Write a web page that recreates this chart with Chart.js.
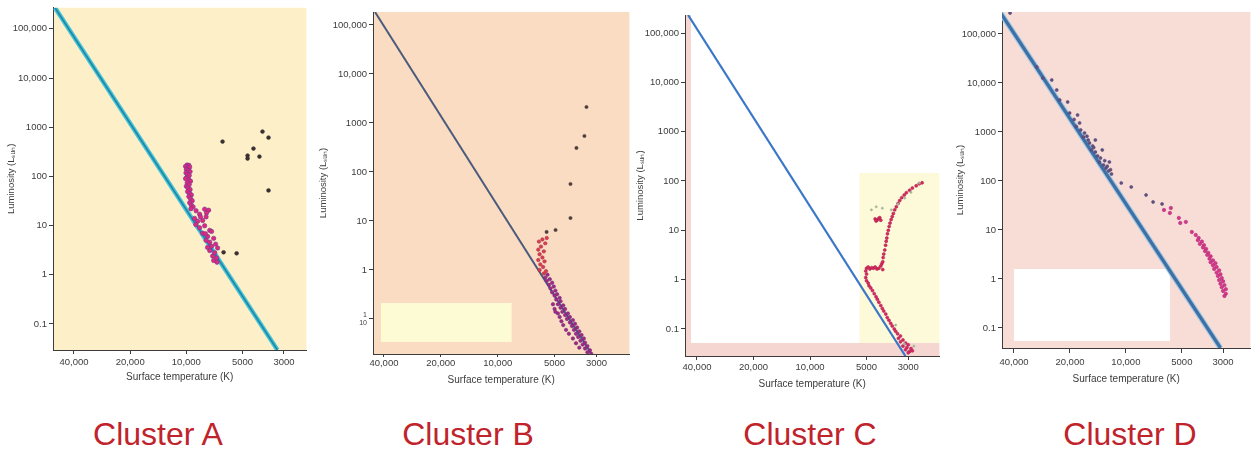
<!DOCTYPE html>
<html>
<head>
<meta charset="utf-8">
<script src="https://cdn.jsdelivr.net/npm/chart.js@4.4.1/dist/chart.umd.min.js"></script>
<style>
body { margin: 0; background: #fff; width: 1255px; height: 450px; position: relative; overflow: hidden; font-family: "Liberation Sans", Arial, sans-serif; }
canvas { position: absolute; top: 0; }
.name { position: absolute; top: 418px; width: 240px; text-align: center; font-size: 32px; line-height: 32px; color: #c0232b; }
</style>
</head>
<body>
<canvas id="chartA" width="305" height="392" style="left:6px"></canvas>
<canvas id="chartB" width="316" height="392" style="left:318px"></canvas>
<canvas id="chartC" width="309" height="392" style="left:635px"></canvas>
<canvas id="chartD" width="300" height="392" style="left:955px"></canvas>
<script>
let yTicks = [0.1, 1, 10, 100, 1000, 10000, 100000]
let yTickLabels = ['0.1', '1', '10', '100', '1000', '10,000', '100,000']
let yTickLabelsB = [['1', '10'], '1', '10', '100', '1000', '10,000', '100,000']
let xTicks = [40000, 20000, 10000, 5000, 3000]
let xTickLabels = ['40,000', '20,000', '10,000', '5000', '3000']
let clusterNames = ['Cluster A', 'Cluster B', 'Cluster C', 'Cluster D']

// all points are [surface temperature K, luminosity Lsun]
// main sequence reference line of each panel
let zamsA = [[50530, 269000], [3251, 0.0295]]
let zamsB = [[44600, 184000], [3190, 0.0193]]
let zamsC = [[44600, 232000], [3104, 0.0283]]
let zamsD = [[47550, 281000], [3098, 0.039]]

// Cluster A
let aMain = [[9900,170],[9700,168],[10100,160],[9800,150],[9600,155],[10000,140],[9750,132],[9550,125],[10050,118],[9850,110],
  [9650,104],[9950,96],[10100,90],[9700,86],[9500,80],[9900,74],[9650,68],[10000,63],[9800,58],[9550,54],
  [9850,49],[9600,45],[9400,42],[9700,39],[9500,35],[9300,32],[9600,29],[9400,26],[9200,24],[9450,22],
  [8870,20],[8490,17],[7980,21.5],[7600,20.5],[7800,18],[9030,14],[8700,12.2],[8180,12.7],[7840,15],[8400,15],
  [8490,9],[7980,9.9],[7500,8],[8900,10.5],[8180,7],[7690,6],[7330,7.6],[7840,5],[7500,4.6],[7140,5.5],
  [7330,3.8],[6970,4.2],[7500,3.1],[7050,2.8],[6800,3.5],[7230,2.4],[6890,2.2],[7140,1.95],[7700,3.6],[7900,6.8],[6850,1.8]]
let aGiants = [[6400,510],[4700,265],[4700,231],[4370,368],[4060,253],[3910,815],[3630,615],[3630,51.8],[6320,2.86],[5380,2.73]]

// Cluster B
let bUpper = [[5500,4.5],[5800,4.2],[6050,3.8],[5600,3.5],[5900,3.0],[6100,2.6],[5700,2.4],[6000,2.1],[5800,1.8],[6100,1.6],
  [5650,1.5],[5950,1.3],[5750,1.15],[6000,1.0],[5550,0.95],[5700,0.85]]
let bLower = [[5450,0.8],[5600,0.7],[5300,0.65],[5500,0.6],[5150,0.55],[5350,0.5],[5050,0.46],[5250,0.42],[4950,0.38],[5150,0.35],
  [4850,0.32],[5000,0.3],[4700,0.27],[4900,0.25],[4650,0.23],[4800,0.2],[4500,0.19],[4650,0.17],[4400,0.16],[4550,0.14],
  [4250,0.13],[4400,0.12],[4150,0.11],[4300,0.1],[4000,0.095],[4150,0.085],[3900,0.08],[4050,0.072],[3800,0.067],[3950,0.06],
  [3700,0.056],[3850,0.05],[3600,0.047],[3750,0.043],[3500,0.04],[3650,0.036],[3450,0.033],[3550,0.03],[3350,0.028],[3450,0.025],
  [3250,0.023],[3350,0.021],[3200,0.0195],[4700,0.11],[4600,0.09],[4800,0.13],[4500,0.075],[4350,0.06],[4200,0.05],[4000,0.04],
  [3850,0.032],[3700,0.026],[5000,0.16],[5100,0.2],[4950,0.14]]
let bGiants = [[3390,2120],[3475,543],[3830,309],[4120,56.9],[4120,11.5],[4940,6.55],[5510,5.97]]

// Cluster C
let cMain = [[5000,0.95],[4900,0.85],[4850,0.75],[4750,0.68],[4650,0.6],[4550,0.52],[4450,0.45],[4380,0.4],[4300,0.35],[4200,0.3],
  [4120,0.26],[4050,0.23],[3950,0.2],[3880,0.17],[3800,0.15],[3720,0.13],[3650,0.115],[3560,0.1],[3500,0.09],[3420,0.08],
  [3300,0.072],[3380,0.065],[3200,0.06],[3300,0.055],[3100,0.052],[3000,0.048],[3200,0.045],[3050,0.042],[2900,0.04],[3100,0.038],
  [2950,0.035],[2850,0.036],[3000,0.033],[5050,1.1],[5000,1.3],[5050,1.5]]
let cBranch = [[5000,1.7],[4900,1.8],[4800,1.65],[4700,1.75],[4600,1.7],[4500,1.8],[4400,1.65],[4300,1.7],[4200,1.9],[4150,2.1],[4100,1.6],
  [4100,2.3],[4080,2.8],[4050,3.3],[4000,4.0],[3960,5],[3930,6],[3900,7],[3870,8.5],[3830,10],[3790,12],[3750,14],[3700,16.5],
  [3650,19],[3600,22],[3540,26],[3470,30],[3400,35],[3330,40],[3250,46],[3150,52],[3070,58],[2950,65],[2850,72],[2720,80],[2620,88],[2530,92],
  [4500,17],[4400,16],[4300,17.5],[4200,16],[4450,15.5],[4250,18]]
let cFaint = [[4710,26],[4440,30],[4120,28],[3690,26],[3410,34],[3130,45],[2900,59],[2620,91],[3500,0.12],[3150,0.05],[2800,0.045]]

// Cluster D
let dHot = [[42000,268000],[30140,21200],[27990,12650],[25060,11500],[23560,7200],[22700,4500],[20580,4100],[20080,2440],[18200,2220],[17750,1530],
  [17500,1100],[16700,955],[16900,790],[15950,687],[15700,597],[15100,518],[15300,430],[14600,391],[14200,324],[13700,294],
  [13880,244],[13200,212],[12800,184],[12400,160],[11950,139],[14600,687],[13400,430],[12270,244],[19000,1800],[18500,1300],
  [16200,820],[14900,480],[13000,260],[12600,200],[12100,170],[10590,91],[9360,75.5],[7790,51.8],[7140,37.3],[6390,34]]
let dCool = [[6240,25.6],[5730,28.1],[5800,22.2],[5190,17.6],[5100,13.9],[4760,14.6],[4420,9.1],[4210,7.9],[4060,6.87],
  [4100,6.2],[3900,5.8],[4000,5.2],[3800,4.9],[3850,4.4],[3700,4.1],[3750,3.7],[3600,3.4],[3650,3.1],[3500,2.9],
  [3550,2.6],[3400,2.4],[3500,2.2],[3300,2.1],[3400,1.9],[3250,1.75],[3350,1.6],[3150,1.5],[3250,1.35],[3100,1.25],
  [3200,1.15],[3050,1.05],[3150,0.95],[3000,0.9],[3100,0.8],[2950,0.75],[3050,0.68],[2900,0.62],[3000,0.57],[2900,0.5],[2950,0.45]]

let ink = '#3c3c3c'
let family = '"Liberation Sans", Arial, sans-serif'

let toXY = pts => pts.map(([t, l]) => ({x: t, y: l}))

let line = (pts, color, width, order) => ({
    data: toXY(pts), showLine: true, borderColor: color, borderWidth: width,
    pointRadius: 0, clip: 0, order: order
})

let dots = (pts, fill, edge, r) => ({
    data: toXY(pts), backgroundColor: fill, borderColor: edge, borderWidth: 0.6,
    pointRadius: r, order: 1
})

// fills the plot area and the pasted-over patches of the scan, boxes given in data units
let panelBg = {
    id: 'panelBg',
    beforeDraw(chart, args, opts) {
        let {ctx, chartArea: a, scales: {x, y}} = chart
        ctx.save()
        ctx.fillStyle = opts.color
        ctx.fillRect(a.left, a.top, a.width, a.height)
        opts.boxes.forEach(b => {
            let x1 = x.getPixelForValue(b.t[0]), x2 = x.getPixelForValue(b.t[1])
            let y1 = y.getPixelForValue(b.l[0]), y2 = y.getPixelForValue(b.l[1])
            ctx.fillStyle = b.color
            ctx.fillRect(Math.min(x1, x2), Math.min(y1, y2), Math.abs(x2 - x1), Math.abs(y2 - y1))
        })
        ctx.restore()
    }
}

let panels = [
    {id: 'chartA', nameX: 158, yw: 47, xh: 33, pad: {top: 7, right: 4, bottom: 9}, xtl: 4, xpad: 3,
     x: [2275, 51800], y: [0.0295, 269000], bg: '#fdf0c9', boxes: [], yLabels: yTickLabels,
     sets: [line(zamsA, '#46c4dc', 4.5, 6), line(zamsA, '#22869f', 1.6, 5),
            dots(aMain, '#e2287c', '#6a3a9a', 2.2), dots(aGiants, '#3a3034', '#3a3034', 1.9)]},
    {id: 'chartB', nameX: 468, yw: 55, xh: 32, pad: {top: 12, right: 4, bottom: 6}, xtl: 3, xpad: 1,
     x: [2009, 45700], y: [0.0193, 184000], bg: '#f9dcc1', yLabels: yTickLabelsB,
     boxes: [{t: [41500, 8440], l: [0.034, 0.212], color: '#fdfbd3'}],
     sets: [line(zamsB, '#4b5b7d', 2, 5),
            dots(bUpper, '#d8404e', '#b02848', 1.7), dots(bLower, '#a8287c', '#6a2a8a', 1.7),
            dots(bGiants, '#4a3a3a', '#4a3a3a', 1.6)]},
    {id: 'chartC', nameX: 810, yw: 50, xh: 34, pad: {top: 15, right: 4, bottom: 2}, xtl: 4, xpad: 2,
     x: [2047, 46300], y: [0.0283, 232000], bg: '#ffffff', yLabels: yTickLabels,
     boxes: [{t: [2047, 5450], l: [0.052, 145], color: '#fdfad9'},
             {t: [43000, 46300], l: [0.0283, 232000], color: '#f5d6d1'},
             {t: [2047, 46300], l: [0.0283, 0.052], color: '#f5d6d1'}],
     sets: [line(zamsC, '#3a77c6', 2.2, 5),
            dots(cFaint, '#a9b39c', '#a9b39c', 1.1), dots(cMain, '#d82a60', '#b02058', 1.5),
            dots(cBranch, '#d82a5a', '#b02050', 1.5)]},
    {id: 'chartD', nameX: 1130, yw: 47, xh: 37, pad: {top: 12, right: 3, bottom: 7}, xtl: 5, xpad: 4,
     x: [2139, 46400], y: [0.039, 281000], bg: '#f8dcd6', yLabels: yTickLabels,
     boxes: [{t: [40000, 5795], l: [0.0543, 1.6], color: '#ffffff'}],
     sets: [line(zamsD, '#9cc8e6', 5.5, 6), line(zamsD, '#3f6fa3', 3.2, 5),
            dots(dHot, '#6a4f78', '#4a4a80', 1.5), dots(dCool, '#d8388a', '#b02878', 1.7)]}
]

let tickFont = {family: family, size: 9.5}
let titleFont = {family: family, size: 10}

panels.forEach((p, i) => {
    new Chart(document.getElementById(p.id), {
        type: 'scatter',
        data: {datasets: p.sets},
        options: {
            responsive: false,
            animation: false,
            events: [],
            layout: {padding: {left: 0, right: p.pad.right, top: p.pad.top, bottom: p.pad.bottom}},
            plugins: {
                legend: {display: false},
                tooltip: {enabled: false},
                panelBg: {color: p.bg, boxes: p.boxes}
            },
            scales: {
                x: {
                    type: 'logarithmic', reverse: true, min: p.x[0], max: p.x[1],
                    afterBuildTicks: s => { s.ticks = xTicks.map(v => ({value: v})) },
                    afterFit: s => { s.height = p.xh },
                    ticks: {autoSkip: false, maxRotation: 0, padding: p.xpad, color: ink, font: tickFont,
                        callback: v => xTickLabels[xTicks.indexOf(v)]},
                    grid: {drawOnChartArea: false, tickLength: p.xtl, color: ink},
                    border: {color: ink},
                    title: {display: true, text: 'Surface temperature (K)', color: ink, font: titleFont, padding: 0}
                },
                y: {
                    type: 'logarithmic', min: p.y[0], max: p.y[1],
                    afterBuildTicks: s => { s.ticks = yTicks.map(v => ({value: v})) },
                    afterFit: s => { s.width = p.yw },
                    ticks: {padding: 2, color: ink,
                        font: c => (c.tick && c.tick.value === 0.1 && Array.isArray(p.yLabels[0])) ? {family: family, size: 7} : tickFont,
                        callback: v => p.yLabels[yTicks.indexOf(v)]},
                    grid: {drawOnChartArea: false, tickLength: 4, color: ink},
                    border: {color: ink},
                    title: {display: true, text: 'Luminosity (L\u209B\u1D64\u2099)', color: ink, font: {family: family, size: 9.5}, padding: 0}
                }
            }
        },
        plugins: [panelBg]
    })

    let label = document.createElement('div')
    label.className = 'name'
    label.textContent = clusterNames[i]
    label.style.left = (p.nameX - 120) + 'px'
    document.body.appendChild(label)
})
</script>
</body>
</html>
